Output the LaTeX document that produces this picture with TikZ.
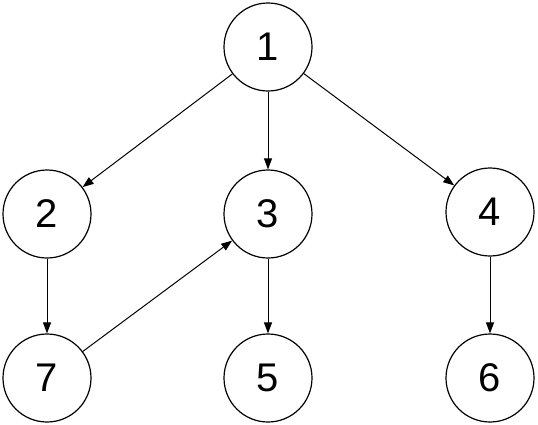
\documentclass[tikz,border=0pt]{standalone}
\usepackage{fontspec}
\setmainfont{Liberation Sans}
\usetikzlibrary{arrows.meta}
\begin{document}
\begin{tikzpicture}[x=1pt,y=-1pt,
  vnode/.style={circle,draw,line width=1.2pt,minimum size=88pt,inner sep=0pt,font=\fontsize{40}{48}\selectfont},
  edge/.style={line width=1pt,-{Triangle[length=11pt,width=8pt]}}]
\useasboundingbox (0,0) rectangle (538,424);
\node[vnode] (n1) at (268,47) {1};
\node[vnode] (n2) at (47,214) {2};
\node[vnode] (n3) at (268,214) {3};
\node[vnode] (n4) at (490,212) {4};
\node[vnode] (n7) at (47,378) {7};
\node[vnode] (n5) at (268,378) {5};
\node[vnode] (n6) at (490,378) {6};
\draw[edge] (n1) -- (n2);
\draw[edge] (n1) -- (n3);
\draw[edge] (n1) -- (n4);
\draw[edge] (n2) -- (n7);
\draw[edge] (n7) -- (n3);
\draw[edge] (n3) -- (n5);
\draw[edge] (n4) -- (n6);
\end{tikzpicture}
\end{document}
